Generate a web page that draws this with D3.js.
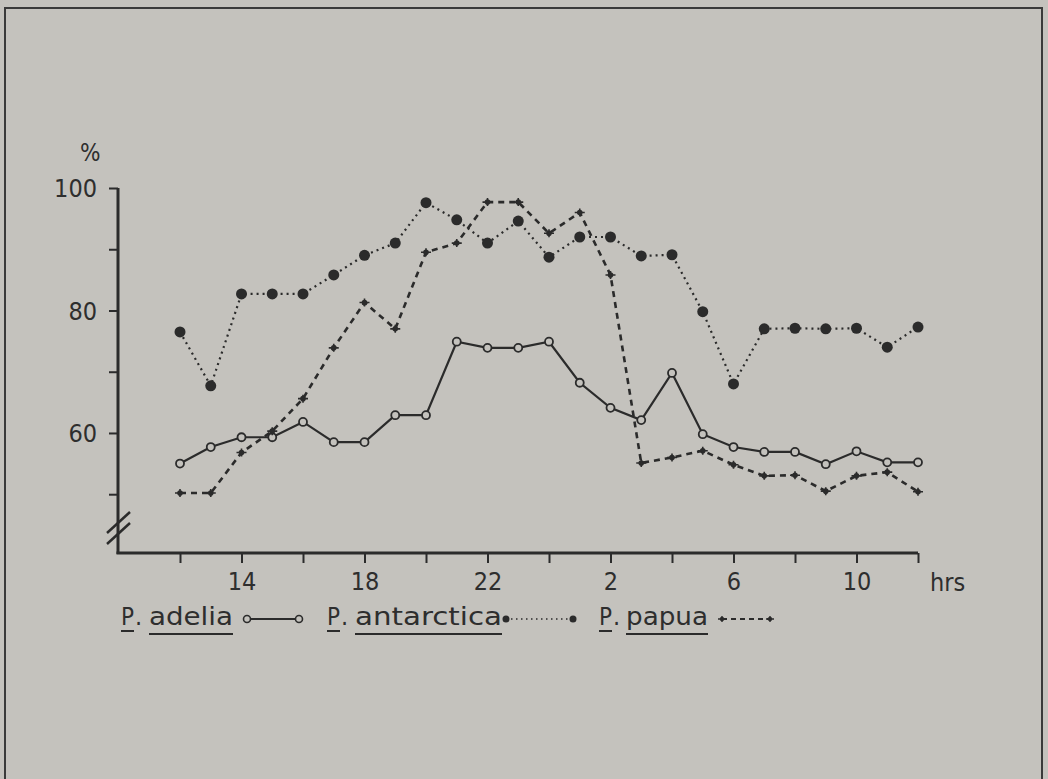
<!DOCTYPE html>
<html><head><meta charset="utf-8">
<script src="https://cdn.jsdelivr.net/npm/d3@7"></script>
<style>
html,body{margin:0;padding:0;background:#c4c2bd;}
svg{display:block;}
text{font-family:"DejaVu Sans Condensed","DejaVu Sans",sans-serif;fill:#2e2e2e;}
</style></head>
<body>
<svg id="chart" width="1048" height="779"></svg>
<script>
// hours of the day, 12 h to 12 h next day
const hours = [12,13,14,15,16,17,18,19,20,21,22,23,24,1,2,3,4,5,6,7,8,9,10,11,12];
const xTickLabels = ["", "14", "", "18", "", "22", "", "2", "", "6", "", "10", ""]; // every 2 h
const yTickValues = [50,60,70,80,90,100];
const yTickLabels = ["", "60", "", "80", "", "100"];
const adelia = [55,57.7,59.3,59.3,61.8,58.5,58.5,62.9,62.9,74.9,73.9,73.9,74.9,68.2,64.1,62.1,69.8,59.8,57.7,56.9,56.9,54.9,57.0,55.2,55.2];
const antarctica = [76.5,67.7,82.7,82.7,82.7,85.8,89,91,97.6,94.8,91,94.6,88.7,92,92,88.9,89.1,79.8,68,77,77.1,77,77.1,74,77.3];
const papua = [50.2,50.2,56.8,60.3,65.6,73.9,81.3,77,89.5,91,97.7,97.7,92.6,96,85.8,55.1,56,57.1,54.8,53,53.1,50.5,53,53.6,50.4];
const seriesNames = ["adelia","antarctica","papua"];

const ink = "#2b2b2b";
const svg = d3.select("#chart");

// frame
svg.append("rect").attr("x",5).attr("y",8).attr("width",1037).attr("height",780)
  .attr("fill","none").attr("stroke","#3a3a3a").attr("stroke-width",2);

const x = d3.scaleLinear().domain([0, hours.length-1]).range([180, 918]);
const y = d3.scaleLinear().domain([40.4, 100]).range([553, 188]);
const axisX0 = 118;

// axes lines
svg.append("line").attr("x1",axisX0).attr("x2",axisX0).attr("y1",188).attr("y2",y(40.4)+1)
  .attr("stroke",ink).attr("stroke-width",3);
svg.append("line").attr("x1",axisX0-1.5).attr("x2",x(24)).attr("y1",y(40.4)).attr("y2",y(40.4))
  .attr("stroke",ink).attr("stroke-width",3);

// y ticks
const yAxis = d3.axisLeft(y).tickValues(yTickValues).tickSize(9).tickPadding(12)
  .tickFormat((d,i)=>yTickLabels[i]);
const gy = svg.append("g").attr("transform",`translate(${axisX0},0)`).call(yAxis);
gy.select(".domain").remove();
gy.selectAll(".tick line").attr("stroke",ink).attr("stroke-width",2);
gy.selectAll(".tick text").style("font-size","25px").attr("fill","#333").attr("dy","0.35em")
  .style("font-family",'"DejaVu Sans Condensed","DejaVu Sans",sans-serif');

// x ticks
const tickIdx = d3.range(0, hours.length, 2);
const xAxis = d3.axisBottom(x).tickValues(tickIdx).tickSize(10).tickPadding(9)
  .tickFormat((d,i)=>xTickLabels[i]);
const gx = svg.append("g").attr("transform",`translate(0,${y(40.4)})`).call(xAxis);
gx.select(".domain").remove();
gx.selectAll(".tick line").attr("stroke",ink).attr("stroke-width",2);
gx.selectAll(".tick text").style("font-size","25px").attr("fill","#333")
  .style("font-family",'"DejaVu Sans Condensed","DejaVu Sans",sans-serif');

svg.append("text").attr("x",930).attr("y",591).style("font-size","25px").text("hrs");
svg.append("text").attr("x",80).attr("y",161).style("font-size","24px").text("%");

// axis break marks
[[0],[11]].forEach(([dy])=>{
  svg.append("line").attr("x1",107).attr("y1",533+dy).attr("x2",130).attr("y2",512+dy)
    .attr("stroke",ink).attr("stroke-width",2.5);
});

// lines
const line = d3.line().x((d,i)=>x(i)).y(d=>y(d));
svg.append("path").datum(adelia).attr("d",line).attr("fill","none")
  .attr("stroke",ink).attr("stroke-width",2.2);
svg.append("path").datum(antarctica).attr("d",line).attr("fill","none")
  .attr("stroke",ink).attr("stroke-width",2.2).attr("stroke-dasharray","2,4");
svg.append("path").datum(papua).attr("d",line).attr("fill","none")
  .attr("stroke",ink).attr("stroke-width",2.6).attr("stroke-dasharray","6,5");

// markers
svg.append("g").selectAll("circle").data(adelia).join("circle")
  .attr("cx",(d,i)=>x(i)).attr("cy",d=>y(d)).attr("r",4)
  .attr("fill","#c4c2bd").attr("stroke",ink).attr("stroke-width",1.8);
svg.append("g").selectAll("circle").data(antarctica).join("circle")
  .attr("cx",(d,i)=>x(i)).attr("cy",d=>y(d)).attr("r",5.5).attr("fill",ink);
const pg = svg.append("g");
pg.selectAll("circle").data(papua).join("circle")
  .attr("cx",(d,i)=>x(i)).attr("cy",d=>y(d)).attr("r",2.8).attr("fill",ink);
pg.selectAll("path.plus").data(papua).join("path").attr("class","plus")
  .attr("d",(d,i)=>`M${x(i)-5},${y(d)}H${x(i)+5}M${x(i)},${y(d)-4}V${y(d)+4}`)
  .attr("stroke",ink).attr("stroke-width",1.6);

// legend
const legY = 625;
function underlinedText(xs, txt, w, uy){
  const t = svg.append("text").attr("x",xs).attr("y",legY).style("font-size","25px")
    .attr("textLength",w).attr("lengthAdjust","spacingAndGlyphs").text(txt);
  svg.append("line").attr("x1",xs).attr("x2",xs+w).attr("y1",uy).attr("y2",uy)
    .attr("stroke",ink).attr("stroke-width",2);
  return t;
}
const legend = [
  {name:seriesNames[0], px:121, wx:149, ww:84, m0:247, m1:299},
  {name:seriesNames[1], px:327, wx:355, ww:147, m0:506, m1:573},
  {name:seriesNames[2], px:599, wx:626, ww:82, m0:722, m1:770}
];
legend.forEach((L,k)=>{
  underlinedText(L.px, "P", 13, 631);
  svg.append("text").attr("x",L.px+14).attr("y",legY).style("font-size","25px").text(".");
  underlinedText(L.wx, L.name, L.ww, 634);
  const my = 619;
  const ln = svg.append("line").attr("x1",L.m0).attr("x2",L.m1).attr("y1",my).attr("y2",my)
    .attr("stroke",ink);
  if(k===0){
    ln.attr("stroke-width",2);
    [L.m0,L.m1].forEach(cx=>svg.append("circle").attr("cx",cx).attr("cy",my).attr("r",3.5)
      .attr("fill","#c4c2bd").attr("stroke",ink).attr("stroke-width",1.6));
  } else if(k===1){
    ln.attr("stroke-width",1.6).attr("stroke-dasharray","1.5,3.5");
    [L.m0,L.m1].forEach(cx=>svg.append("circle").attr("cx",cx).attr("cy",my).attr("r",3.5).attr("fill",ink));
  } else {
    ln.attr("stroke-width",2).attr("stroke-dasharray","5,4");
    [L.m0,L.m1].forEach(cx=>{
      svg.append("circle").attr("cx",cx).attr("cy",my).attr("r",2.2).attr("fill",ink);
      svg.append("path").attr("d",`M${cx-4},${my}H${cx+4}M${cx},${my-3}V${my+3}`).attr("stroke",ink).attr("stroke-width",1.4);
    });
  }
});
</script>
</body></html>
